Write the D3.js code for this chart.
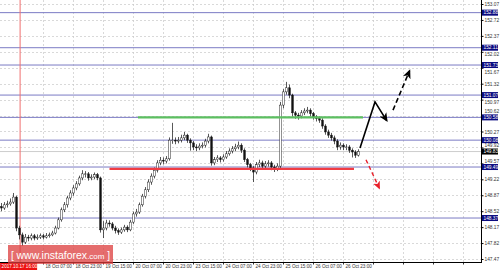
<!DOCTYPE html>
<html>
<head>
<meta charset="utf-8">
<script src="https://cdn.jsdelivr.net/npm/d3@7"></script>
<style>
  body { margin: 0; background: #fff; }
  svg { display: block; font-family: "Liberation Sans", Arial, sans-serif; }
</style>
</head>
<body>
<div id="chart"></div>
<script>
// hourly-ish candles, closes
var closes = [148.59,148.66,148.68,148.72,148.83,148.15,148.00,147.84,147.95,147.93,
  147.98,147.93,147.95,147.98,147.95,147.98,148.00,148.04,148.15,148.33,
  148.55,148.66,148.81,148.92,149.03,149.12,149.25,149.34,149.34,149.25,
  149.27,149.32,149.25,148.11,148.15,148.26,148.24,148.15,148.09,148.06,
  148.11,148.17,148.11,148.28,148.46,148.50,148.66,148.85,148.99,149.16,
  149.29,149.42,149.58,149.64,149.62,149.67,150.08,150.08,150.06,150.08,
  150.13,150.19,150.08,150.02,149.93,149.91,149.95,149.97,150.06,150.15,
  149.58,149.65,149.69,149.65,149.71,149.78,149.84,149.89,149.93,149.97,
  149.86,149.65,149.54,149.47,149.38,149.54,149.58,149.51,149.56,149.58,
  149.49,149.45,149.51,150.85,151.14,151.23,151.07,150.68,150.63,150.61,
  150.68,150.72,150.74,150.66,150.59,150.55,150.52,150.39,150.26,150.19,
  150.13,150.06,149.93,149.97,149.93,149.93,149.86,149.82,149.75,149.83];
var highs = [148.70,148.72,148.75,148.80,148.92,148.86,148.20,148.05,148.02,148.00,
  148.03,148.02,148.01,148.03,148.02,148.04,148.05,148.09,148.20,148.38,
  148.60,148.72,148.86,148.98,149.09,149.18,149.30,149.42,149.40,149.38,
  149.33,149.37,149.36,149.28,148.30,148.33,148.32,148.28,148.20,148.14,
  148.16,148.22,148.21,148.33,148.51,148.57,148.71,148.90,149.05,149.22,
  149.35,149.48,149.64,149.71,149.70,149.73,150.14,150.46,150.14,150.15,
  150.20,150.26,150.22,150.12,150.06,149.99,150.01,150.03,150.11,150.22,
  150.18,149.71,149.75,149.73,149.77,149.84,149.90,149.95,150.00,150.05,
  150.01,149.90,149.69,149.58,149.51,149.60,149.65,149.63,149.62,149.64,
  149.62,149.54,149.57,150.92,151.20,151.36,151.30,151.10,150.72,150.68,
  150.74,150.78,150.81,150.78,150.70,150.63,150.60,150.56,150.43,150.31,
  150.24,150.18,150.10,150.03,150.01,149.99,149.97,149.90,149.86,149.88];
var lows = [148.52,148.55,148.60,148.64,148.68,148.08,147.90,147.76,147.80,147.86,
  147.88,147.88,147.89,147.91,147.90,147.92,147.94,147.97,148.01,148.12,
  148.29,148.50,148.60,148.76,148.86,148.98,149.08,149.20,149.26,149.19,
  149.20,149.22,149.20,148.05,147.93,148.10,148.18,148.10,148.03,148.00,
  148.02,148.07,148.06,148.08,148.24,148.40,148.46,148.62,148.80,148.94,
  149.10,149.24,149.37,149.53,149.55,149.57,149.63,150.00,149.99,150.01,
  150.03,150.08,150.02,149.85,149.86,149.84,149.86,149.90,149.92,150.01,
  149.52,149.53,149.60,149.59,149.61,149.67,149.74,149.79,149.84,149.88,
  149.80,149.60,149.48,149.40,149.16,149.33,149.49,149.45,149.46,149.50,
  149.42,149.38,149.40,149.47,150.78,151.08,151.00,150.60,150.55,150.53,
  150.56,150.63,150.67,150.60,150.53,150.49,150.46,150.33,150.20,150.13,
  150.07,149.99,149.86,149.87,149.86,149.86,149.80,149.70,149.69,149.72];
var firstOpen = 148.62;

var priceTicks = [153.07,152.72,152.37,152.02,151.67,151.32,150.97,150.62,150.27,
  149.92,149.57,149.22,148.87,148.52,148.17,147.82,147.47];
var levels = [152.88,152.11,151.73,151.07,150.58,150.08,149.49,148.37];
var lastPrice = 149.83;

var timeLabels = ["18 Oct 07:00","18 Oct 23:00","19 Oct 15:00","20 Oct 07:00","20 Oct 23:00",
  "23 Oct 15:00","24 Oct 07:00","24 Oct 23:00","25 Oct 15:00","26 Oct 07:00","26 Oct 23:00",
  "","","",""];
var timeIdx = [13.8,23.8,33.8,43.8,53.8,63.8,73.8,83.8,93.8,103.8,113.8,123.8,133.8,143.8,153.8];
var startLabel = "2017.10.17 16:00", startIdx = 6.2;

// forecast lines: [candle index, price]
var resistance = [[45.5,150.58],[120.5,150.58]];
var support = [[36,149.45],[117.5,149.45]];
var upPath = [[119.5,149.91],[124.5,150.92],[128.4,150.51]];
var upPath2 = [[130.5,150.74],[136.0,151.60]];
var downPath = [[121.5,149.65],[125.9,149.03]];

var W = 500, H = 270, plotR = 481, plotB = 262;

var x = d3.scaleLinear().domain([0, 1]).range([1.5, 4.5]);
var y = d3.scaleLinear().domain([147.47, 153.07]).range([259, 4]);

var svg = d3.select("#chart").append("svg").attr("width", W).attr("height", H);

var defs = svg.append("defs");
function marker(id, col, size) {
  defs.append("marker").attr("id", id).attr("viewBox", "0 0 10 10")
    .attr("refX", 8).attr("refY", 5).attr("markerWidth", size).attr("markerHeight", size)
    .attr("orient", "auto").attr("markerUnits", "userSpaceOnUse")
    .append("path").attr("d", "M0,0.5L10,5L0,9.5L2.5,5z").attr("fill", col);
}
marker("ahb", "#000", 9);
marker("ahr", "#e8202a", 8);

// grid
svg.append("g").selectAll("line").data(priceTicks).enter().append("line")
  .attr("x1", 0).attr("x2", plotR)
  .attr("y1", function(d) { return Math.round(y(d)) + 0.5; })
  .attr("y2", function(d) { return Math.round(y(d)) + 0.5; })
  .attr("stroke", "#c8c8c8").attr("stroke-width", 0.7).attr("stroke-dasharray", "2,2");
svg.append("g").selectAll("line").data(timeIdx).enter().append("line")
  .attr("x1", function(d) { return Math.round(x(d)) + 0.5; })
  .attr("x2", function(d) { return Math.round(x(d)) + 0.5; })
  .attr("y1", 0).attr("y2", plotB)
  .attr("stroke", "#c8c8c8").attr("stroke-width", 0.7).attr("stroke-dasharray", "2,2");

// horizontal levels
svg.append("g").selectAll("line").data(levels).enter().append("line")
  .attr("x1", 0).attr("x2", plotR)
  .attr("y1", function(d) { return y(d); }).attr("y2", function(d) { return y(d); })
  .attr("stroke", "#7b7bc4").attr("stroke-width", 1);

// current price line
svg.append("line").attr("x1", 0).attr("x2", plotR)
  .attr("y1", y(lastPrice)).attr("y2", y(lastPrice))
  .attr("stroke", "#c0c0c0").attr("stroke-width", 0.8);

// red vertical separator
svg.append("line").attr("x1", x(startIdx)).attr("x2", x(startIdx))
  .attr("y1", 0).attr("y2", plotB)
  .attr("stroke", "#f07070").attr("stroke-width", 1);

// candles
var candles = closes.map(function(c, i) {
  return { i: i, o: i ? closes[i - 1] : firstOpen, c: c, h: highs[i], l: lows[i] };
});
var cg = svg.append("g");
cg.selectAll("line").data(candles).enter().append("line")
  .attr("x1", function(d) { return x(d.i); }).attr("x2", function(d) { return x(d.i); })
  .attr("y1", function(d) { return y(d.h); }).attr("y2", function(d) { return y(d.l); })
  .attr("stroke", "#111").attr("stroke-width", 0.7);
cg.selectAll("rect").data(candles).enter().append("rect")
  .attr("x", function(d) { return x(d.i) - 0.9; })
  .attr("width", 1.8)
  .attr("y", function(d) { return y(Math.max(d.o, d.c)); })
  .attr("height", function(d) { return Math.max(0.6, Math.abs(y(d.o) - y(d.c))); })
  .attr("fill", function(d) { return d.c >= d.o ? "#fff" : "#111"; })
  .attr("stroke", "#111").attr("stroke-width", 0.45);

// support / resistance
var line = d3.line().x(function(d) { return x(d[0]); }).y(function(d) { return y(d[1]); });
svg.append("path").attr("d", line(resistance)).attr("stroke", "#5cbf60").attr("stroke-width", 2.2).attr("fill", "none");
svg.append("path").attr("d", line(support)).attr("stroke", "#f03c44").attr("stroke-width", 2.2).attr("fill", "none");

// forecast arrows
svg.append("path").attr("d", line(upPath)).attr("stroke", "#000").attr("stroke-width", 1.6)
  .attr("fill", "none").attr("marker-end", "url(#ahb)");
svg.append("path").attr("d", line(upPath2)).attr("stroke", "#000").attr("stroke-width", 1.6)
  .attr("stroke-dasharray", "5,3").attr("fill", "none").attr("marker-end", "url(#ahb)");
svg.append("path").attr("d", line(downPath)).attr("stroke", "#e8202a").attr("stroke-width", 1.4)
  .attr("stroke-dasharray", "4,3").attr("fill", "none").attr("marker-end", "url(#ahr)");

// right axis
svg.append("line").attr("x1", plotR + 0.5).attr("x2", plotR + 0.5).attr("y1", 0).attr("y2", plotB)
  .attr("stroke", "#000").attr("stroke-width", 1);
var tagged = levels.concat([lastPrice]);
function nudge(d) {
  // push a tick label clear of any price tag that sits on it
  var py = y(d), off = 0;
  tagged.forEach(function(t) {
    var dy = py - y(t);
    if (Math.abs(dy) < 6.5) off = (dy >= 0 ? 6.5 : -6.5) - dy;
  });
  return off;
}
var yAxis = svg.append("g").attr("transform", "translate(" + (plotR + 0.5) + ",0)")
  .call(d3.axisRight(y).tickValues(priceTicks).tickSize(2).tickPadding(1).tickFormat(d3.format(".2f")));
yAxis.select(".domain").remove();
yAxis.selectAll("text").attr("font-size", 4.8).attr("fill", "#333").attr("font-family", "Liberation Sans")
  .attr("y", function(d) { return nudge(d); });

// level tags
var tags = svg.append("g").selectAll("g").data(levels).enter().append("g")
  .attr("transform", function(d) { return "translate(" + (plotR + 1) + "," + y(d) + ")"; });
tags.append("rect").attr("x", 0).attr("y", -3).attr("width", 16).attr("height", 6).attr("fill", "#0a0a80");
tags.append("text").attr("x", 1.5).attr("dy", "0.34em").attr("font-size", 4.8).attr("fill", "#fff")
  .text(function(d) { return d.toFixed(2); });
var lp = svg.append("g").attr("transform", "translate(" + (plotR + 1) + "," + y(lastPrice) + ")");
lp.append("rect").attr("x", 0).attr("y", -3).attr("width", 16).attr("height", 6).attr("fill", "#000");
lp.append("text").attr("x", 1.5).attr("dy", "0.34em").attr("font-size", 4.8).attr("fill", "#fff").text(lastPrice.toFixed(2));

// bottom axis
svg.append("line").attr("x1", 0).attr("x2", plotR + 1).attr("y1", plotB + 0.5).attr("y2", plotB + 0.5)
  .attr("stroke", "#000").attr("stroke-width", 1);
var xt = svg.append("g").selectAll("g").data(timeIdx).enter().append("g")
  .attr("transform", function(d) { return "translate(" + (Math.round(x(d)) + 0.5) + "," + (plotB + 0.5) + ")"; });
xt.append("line").attr("y2", 2).attr("stroke", "#000").attr("stroke-width", 0.8);
xt.append("text").attr("x", 2).attr("y", 5.5).attr("font-size", 4.6).attr("fill", "#333")
  .text(function(d, i) { return timeLabels[i]; });

svg.append("rect").attr("x", x(startIdx) - 20).attr("y", plotB + 1).attr("width", 37).attr("height", 7)
  .attr("fill", "#ee1111");
svg.append("text").attr("x", x(startIdx) - 18.5).attr("y", plotB + 6.3).attr("font-size", 4.6)
  .attr("fill", "#fff").text(startLabel);

// watermark
svg.append("rect").attr("x", 8).attr("y", 245).attr("width", 105).attr("height", 19)
  .attr("fill", "#dc3c3c").attr("fill-opacity", 0.75);
var wm = svg.append("text").attr("x", 60.5).attr("y", 258.5).attr("text-anchor", "middle")
  .attr("fill", "#fff").attr("font-size", 10).attr("font-family", "Liberation Sans");
wm.append("tspan").text("[ ");
wm.append("tspan").attr("font-size", 10.5).text("www.instaforex");
wm.append("tspan").attr("font-size", 8).text(".com");
wm.append("tspan").text(" ]");
</script>
</body>
</html>
